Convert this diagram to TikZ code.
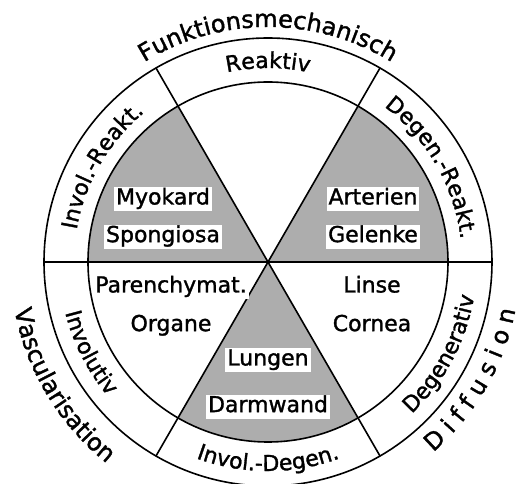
\documentclass[tikz,border=0pt]{standalone}
\usepackage{fontspec}
\setmainfont{DejaVu Sans}[FakeBold=1.4]
\usetikzlibrary{positioning,decorations.text}

\newcommand\ringfont{\fontsize{22}{26}\selectfont}
\newcommand\outerfont{\fontsize{24}{28}\selectfont}

\begin{document}
\begin{tikzpicture}[
    x=1pt, y=1pt,
    line width=1.6pt,
    organ/.style={
        fill=white,
        inner xsep=2pt,
        inner ysep=1.5pt,
        text height=16pt,
        text depth=5pt,
        font=\ringfont
    },
    shaded/.style={
        fill=black!32,
        draw=none
    },
    ringtext/.style={
        decorate,
        decoration={text along path, text align=center,
                    text={|\ringfont|#1}}
    },
    outertext/.style={
        decorate,
        decoration={text along path, text align=center,
                    text={|\outerfont|#1}}
    }
]

\useasboundingbox (-268,-222) rectangle (252,262);

% =========================================================
% SEKTOREN
% =========================================================

\fill[shaded] (0,0) -- (0:180pt) arc[start angle=0, end angle=60, radius=180pt] -- cycle;
\fill[shaded] (0,0) -- (120:180pt) arc[start angle=120, end angle=180, radius=180pt] -- cycle;
\fill[shaded] (0,0) -- (240:180pt) arc[start angle=240, end angle=300, radius=180pt] -- cycle;

\draw (0,0) circle[radius=224pt];
\draw (0,0) circle[radius=180pt];

\draw (180:224pt) -- (0:224pt);
\draw (240:224pt) -- (60:224pt);
\draw (300:224pt) -- (120:224pt);

% =========================================================
% ORGANE
% =========================================================

\node[organ] (myokard) at (-105,63) {Myokard};
\node[organ, below=12pt of myokard] (spongiosa) {Spongiosa};

\node[organ] (arterien) at (105,63) {Arterien};
\node[organ, below=12pt of arterien] (gelenke) {Gelenke};

\node[organ] (parenchym) at (-97,-25) {Parenchymat.};
\node[organ, below=13pt of parenchym] (organe) {Organe};

\node[organ] (linse) at (104,-25) {Linse};
\node[organ, below=13pt of linse] (cornea) {Cornea};

\node[organ] (lungen) at (0,-98) {Lungen};
\node[organ, below=21pt of lungen] (darmwand) {Darmwand};

% =========================================================
% RING UND AUSSEN
% =========================================================

% obere Haelfte: im Uhrzeigersinn
\path[ringtext={Reaktiv}] (130:194pt) arc[start angle=130, end angle=50, radius=194pt];
\path[ringtext={Degen.-Reakt.}] (70:194pt) arc[start angle=70, end angle=-10, radius=194pt];
\path[ringtext={Invol.-Reakt.}] (190:194pt) arc[start angle=190, end angle=110, radius=194pt];
\path[outertext={Funktionsmechanisch}] (140:235pt) arc[start angle=140, end angle=40, radius=235pt];

% untere Haelfte: gegen den Uhrzeigersinn
\path[ringtext={Invol.-Degen.}] (230:209pt) arc[start angle=230, end angle=310, radius=209pt];
\path[ringtext={Involutiv}] (167:209pt) arc[start angle=167, end angle=247, radius=209pt];
\path[ringtext={Degenerativ}] (292:209pt) arc[start angle=292, end angle=372, radius=209pt];
\path[outertext={Vascularisation}] (160:258pt) arc[start angle=160, end angle=262, radius=258pt];
\path[outertext={D i f f u s i o n}] (280:252pt) arc[start angle=280, end angle=380, radius=252pt];

\end{tikzpicture}
\end{document}
